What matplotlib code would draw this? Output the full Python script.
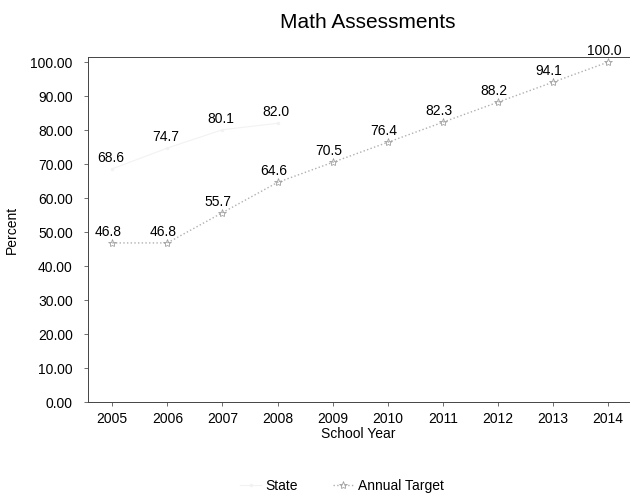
import matplotlib
matplotlib.use('Agg')
import matplotlib.pyplot as plt

plt.rcParams['font.family'] = ['Liberation Sans', 'DejaVu Sans']

# data
years = [2005, 2006, 2007, 2008, 2009, 2010, 2011, 2012, 2013, 2014]
state_years = [2005, 2006, 2007, 2008]
state = [68.6, 74.7, 80.1, 82.0]
target = [46.8, 46.8, 55.7, 64.6, 70.5, 76.4, 82.3, 88.2, 94.1, 100.0]
yticks = [0, 10, 20, 30, 40, 50, 60, 70, 80, 90, 100]

fig = plt.figure(figsize=(6.35, 4.99), dpi=100)
ax = fig.add_axes([88/635, 1 - 402/499, (629-88)/635, (402-57)/499])

ax.plot(state_years, state, color='#f2f2f2', linewidth=0.8, marker='.',
        markersize=3, label='State')
ax.plot(years, target, color='#b0b0b0', linestyle=':', linewidth=1.0,
        marker='*', markersize=6, markerfacecolor='none',
        markeredgecolor='#a0a0a0', markeredgewidth=0.6, label='Annual Target')

for x, y in zip(state_years, state):
    ax.annotate('%.1f' % y, (x, y), xytext=(-1, 3), textcoords='offset points',
                ha='center', va='bottom', fontsize=10)
for x, y in zip(years, target):
    ax.annotate('%.1f' % y, (x, y), xytext=(-3, 3), textcoords='offset points',
                ha='center', va='bottom', fontsize=10)

ax.set_xlim(2004.56, 2014.38)
ax.set_ylim(0, 101.5)
ax.set_xticks(years)
ax.set_yticks(yticks)
ax.set_yticklabels(['%.2f' % v for v in yticks])
ax.tick_params(axis='both', direction='out', length=3, width=0.6,
               color='#555555', labelsize=10)
ax.tick_params(axis='y', pad=8)
ax.tick_params(axis='x', pad=4)
for side in ['left', 'bottom', 'top', 'right']:
    ax.spines[side].set_color('#444444')
    ax.spines[side].set_linewidth(0.7)
ax.spines['right'].set_visible(False)

ax.set_xlabel('School Year', fontsize=10, labelpad=1)
ax.set_ylabel('Percent', fontsize=10, labelpad=8)
fig.text(368/635, 1 - 22/499, 'Math Assessments', fontsize=15,
         ha='center', va='center')

fig.legend(loc='center', bbox_to_anchor=(342/635, 1 - 486/499), ncol=2,
           frameon=False, fontsize=10, columnspacing=2.5, handlelength=1.5,
           handletextpad=0.3)

fig.savefig('out.png', dpi=100)
